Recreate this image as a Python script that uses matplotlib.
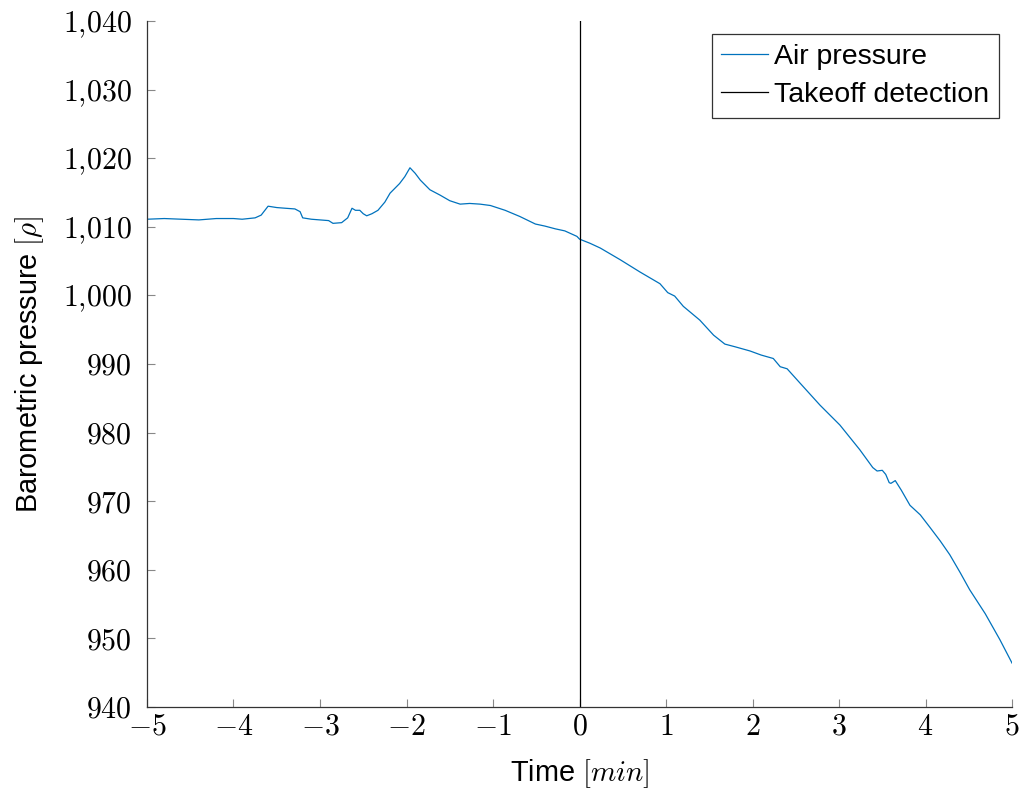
import matplotlib
matplotlib.use("Agg")
import matplotlib.pyplot as plt
from matplotlib.ticker import FuncFormatter, MultipleLocator

plt.rcParams["font.family"] = ["Liberation Sans", "DejaVu Sans"]
plt.rcParams["mathtext.fontset"] = "cm"

# time relative to takeoff [min] and barometric pressure
time_min = [-5.0, -4.8, -4.6, -4.4, -4.2, -4.0, -3.9, -3.75, -3.68, -3.6,
            -3.5, -3.4, -3.29, -3.23, -3.2, -3.1, -3.0, -2.9, -2.85, -2.75,
            -2.68, -2.63, -2.59, -2.54, -2.5, -2.46, -2.4, -2.33, -2.25, -2.19,
            -2.08, -2.02, -1.96, -1.9, -1.84, -1.73, -1.61, -1.5, -1.38, -1.27,
            -1.15, -1.03, -0.86, -0.69, -0.51, -0.4, -0.28, -0.17, -0.03, 0.0,
            0.12, 0.24, 0.47, 0.7, 0.93, 1.02, 1.1, 1.2, 1.39, 1.55,
            1.68, 1.8, 1.97, 2.1, 2.24, 2.32, 2.4, 2.55, 2.78, 3.01,
            3.24, 3.39, 3.44, 3.5, 3.54, 3.58, 3.6, 3.65, 3.72, 3.82,
            3.94, 4.05, 4.17, 4.28, 4.4, 4.51, 4.69, 4.86, 5.0]
pressure = [1011.1, 1011.2, 1011.1, 1011.0, 1011.2, 1011.2, 1011.1, 1011.3, 1011.7, 1013.0,
            1012.8, 1012.7, 1012.6, 1012.2, 1011.3, 1011.1, 1011.0, 1010.9, 1010.5, 1010.6,
            1011.3, 1012.7, 1012.4, 1012.4, 1011.9, 1011.6, 1011.9, 1012.4, 1013.6, 1014.9,
            1016.3, 1017.3, 1018.6, 1017.8, 1016.8, 1015.4, 1014.6, 1013.8, 1013.3, 1013.4,
            1013.3, 1013.1, 1012.4, 1011.5, 1010.4, 1010.1, 1009.7, 1009.4, 1008.6, 1008.2,
            1007.6, 1006.9, 1005.2, 1003.4, 1001.7, 1000.4, 999.9, 998.4, 996.4, 994.2,
            992.9, 992.5, 991.9, 991.3, 990.8, 989.6, 989.3, 987.2, 984.0, 981.1,
            977.5, 974.9, 974.4, 974.5, 973.9, 972.7, 972.6, 973.0, 971.6, 969.4,
            968.0, 966.2, 964.2, 962.2, 959.6, 957.1, 953.6, 949.8, 946.4]

takeoff_time = 0.0

fig = plt.figure(figsize=(10.2, 7.91), dpi=100)
ax = fig.add_axes([0.1441, 0.1062, 0.8481, 0.8673])

ax.plot(time_min, pressure, color="#0072bd", lw=0.9, label="Air pressure")
ax.axvline(takeoff_time, color="black", lw=0.9, label="Takeoff detection")

ax.set_xlim(-5, 5)
ax.set_ylim(940, 1040)
ax.xaxis.set_major_locator(MultipleLocator(1))
ax.yaxis.set_major_locator(MultipleLocator(10))

def math_tick(v, pos):
    return "$" + f"{v:,.0f}".replace(",", "{,}") + "$"

ax.xaxis.set_major_formatter(FuncFormatter(math_tick))
ax.yaxis.set_major_formatter(FuncFormatter(math_tick))

for side in ("top", "right"):
    ax.spines[side].set_visible(False)
for side in ("left", "bottom"):
    ax.spines[side].set_color("#333333")
    ax.spines[side].set_linewidth(0.9)

ax.tick_params(direction="in", length=6, width=0.8, color="#888888",
               labelsize=21.5)
ax.tick_params(axis="x", pad=4)
ax.tick_params(axis="y", pad=11)

ax.set_xlabel("Time $[min]$", fontsize=20.8, labelpad=12)
ax.set_ylabel(r"Barometric pressure $[\rho]$", fontsize=20.8, labelpad=12)

leg = ax.legend(loc="upper right", fontsize=20.5, fancybox=False, framealpha=1,
                edgecolor="#333333", handlelength=1.65, handletextpad=0.2,
                borderpad=0.35, labelspacing=0.43, borderaxespad=0.45)
leg.get_frame().set_linewidth(0.9)

fig.savefig("out.png", dpi=100)
